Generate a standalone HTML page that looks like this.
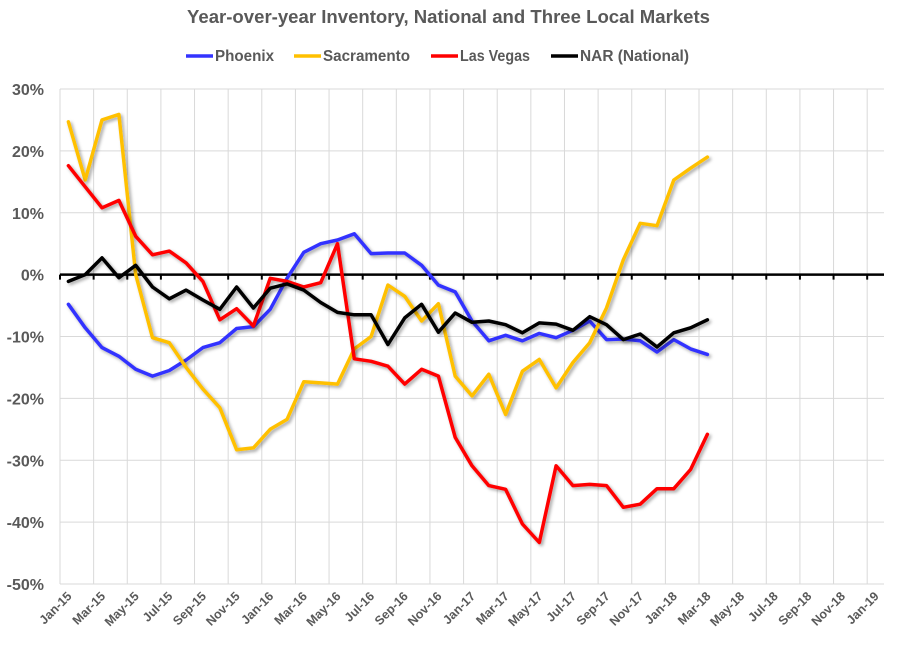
<!DOCTYPE html>
<html><head><meta charset="utf-8"><style>
body{margin:0;background:#fff;}
svg{display:block;font-family:"Liberation Sans",Arial,sans-serif;}
</style></head><body>
<svg id="chart" width="897" height="647">
<defs><filter id="sh" x="-5%" y="-5%" width="110%" height="110%"><feDropShadow dx="2" dy="2" stdDeviation="1.5" flood-color="#000" flood-opacity="0.35"/></filter></defs>
<text x="187" y="23" textLength="523" lengthAdjust="spacingAndGlyphs" font-size="18" font-weight="bold" fill="#595959">Year-over-year Inventory, National and Three Local Markets</text>
<g id="grid"></g><g id="axes"></g><g id="series"></g><g id="legend"></g>
</svg>
<script>
const months=["Jan-15","Mar-15","May-15","Jul-15","Sep-15","Nov-15","Jan-16","Mar-16","May-16","Jul-16","Sep-16","Nov-16","Jan-17","Mar-17","May-17","Jul-17","Sep-17","Nov-17","Jan-18","Mar-18","May-18","Jul-18","Sep-18","Nov-18","Jan-19"];
const yTicks=[30,20,10,0,-10,-20,-30,-40,-50];
const phoenix=[-4.8,-8.6,-11.8,-13.2,-15.3,-16.4,-15.5,-13.8,-11.8,-11,-8.7,-8.4,-5.6,-0.6,3.6,5,5.6,6.6,3.4,3.5,3.5,1.5,-1.7,-2.8,-7.5,-10.7,-9.8,-10.7,-9.5,-10.2,-9,-7.5,-10.5,-10.4,-10.7,-12.5,-10.5,-12,-12.9];
const sacramento=[24.7,15.3,25,25.9,0,-10.2,-11,-15,-18.5,-21.5,-28.3,-28,-25,-23.4,-17.3,-17.5,-17.7,-12,-10,-1.7,-3.5,-7.5,-4.7,-16.4,-19.6,-16.1,-22.6,-15.6,-13.7,-18.3,-14.2,-11,-5.4,2.4,8.3,7.9,15.3,17.2,19];
const lasVegas=[17.6,14.2,10.8,12,6.2,3.2,3.8,1.9,-1.1,-7.3,-5.5,-8.3,-0.6,-1.1,-2,-1.3,5,-13.6,-14,-14.8,-17.7,-15.3,-16.4,-26.3,-30.9,-34.1,-34.7,-40.3,-43.3,-30.9,-34.1,-33.9,-34.1,-37.6,-37.1,-34.6,-34.6,-31.5,-25.8];
const nar=[-1.1,0,2.7,-0.5,1.5,-2,-3.9,-2.5,-4.1,-5.6,-2,-5.4,-2.2,-1.5,-2.5,-4.5,-6.1,-6.5,-6.5,-11.3,-7,-4.8,-9.3,-6.2,-7.7,-7.5,-8.1,-9.4,-7.8,-8,-9,-6.8,-8.1,-10.5,-9.6,-11.7,-9.4,-8.6,-7.3];
const seriesNames=["Phoenix","Sacramento","Las Vegas","NAR (National)"];
const seriesColors=["#3333FF","#FFC000","#FF0000","#000000"];
const seriesData=[phoenix,sacramento,lasVegas,nar];

const NS="http://www.w3.org/2000/svg";
const L=60,R=884,T=89,B=584,slots=49,slotW=(R-L)/slots;
const xOf=i=>L+slotW*(i+0.5);
const yOf=v=>T+(30-v)/80*(B-T);
function mk(tag,attrs,parent){const e=document.createElementNS(NS,tag);for(const k in attrs)e.setAttribute(k,attrs[k]);parent.appendChild(e);return e;}
const grid=document.getElementById('grid'),axes=document.getElementById('axes'),ser=document.getElementById('series'),leg=document.getElementById('legend');
yTicks.forEach(v=>{
  const ln=mk('line',{x1:L,x2:R,y1:yOf(v),y2:yOf(v),stroke:'#d9d9d9','stroke-width':1},grid);
  
  
  const t=mk('text',{x:44,y:yOf(v)+6,'text-anchor':'end','font-size':16,'font-weight':'bold',fill:'#595959'},axes);
  t.textContent=v+'%';
  
  
});
for(let k=0;k<=slots;k+=2){
  const x=L+k*slotW;
  const ln=mk('line',{x1:x,x2:x,y1:T,y2:B,stroke:'#d9d9d9','stroke-width':1},grid);
  
  
  const tk=mk('line',{x1:x,x2:x,y1:yOf(0),y2:yOf(0)+5,stroke:'#000','stroke-width':2},axes);
  
  
}
const zl=mk('line',{x1:L,x2:R,y1:yOf(0),y2:yOf(0),stroke:'#000','stroke-width':2.5},axes);


months.forEach((m,j)=>{
  const x=xOf(j*2)+4,y=597;
  const t=mk('text',{x:x,y:y,'text-anchor':'end','font-size':12.5,'font-weight':'bold',fill:'#595959',transform:`rotate(-45 ${x} ${y})`},axes);
  t.textContent=m;
  
  
});
seriesData.forEach((d,s)=>{
  const pts=d.map((v,i)=>xOf(i).toFixed(1)+','+yOf(v).toFixed(1)).join(' ');
  const p=mk('polyline',{points:pts,fill:'none',stroke:seriesColors[s],'stroke-width':3.5,'stroke-linejoin':'round','stroke-linecap':'round',filter:'url(#sh)'},ser);
  
  
});
const legX=[186,294,431,551];
const legW=[59,87,70,109];
seriesNames.forEach((n,s)=>{
  const g=mk('g',{},leg);
  
  
  mk('line',{x1:legX[s],x2:legX[s]+27,y1:56,y2:56,stroke:seriesColors[s],'stroke-width':3.5},g);
  const t=mk('text',{x:legX[s]+29,y:61,'font-size':16,'font-weight':'bold',fill:'#595959',textLength:legW[s],lengthAdjust:'spacingAndGlyphs'},g);
  t.textContent=n;
});
</script>
</body></html>
